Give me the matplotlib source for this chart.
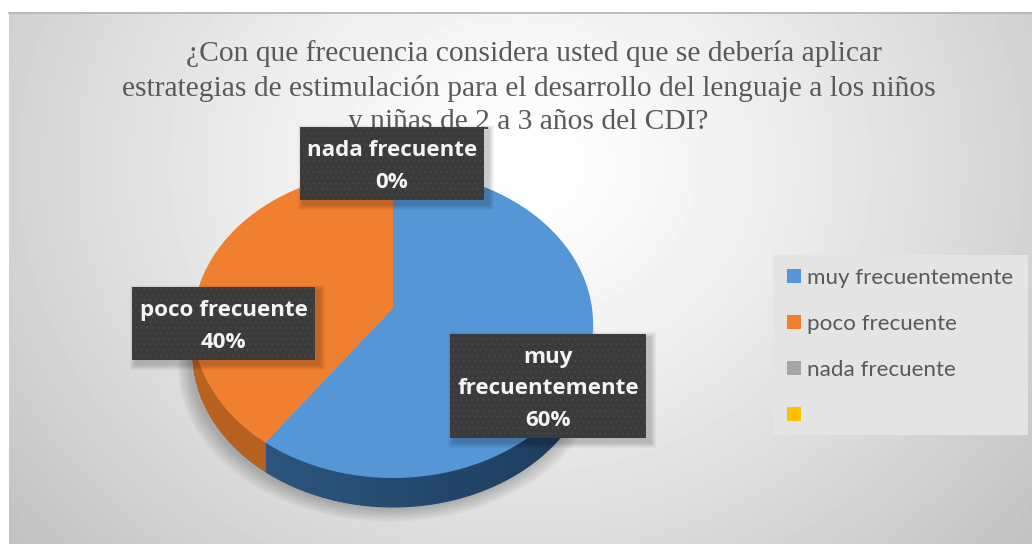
"""
Pie chart (Excel style 3D look) about how often language stimulation should be applied.
"""
import numpy as np
import matplotlib
matplotlib.use('Agg')
import matplotlib.pyplot as plt
from matplotlib.patches import Patch, Polygon, Rectangle

# data
categories = ['muy frecuentemente', 'poco frecuente', 'nada frecuente', '']
values = [60, 40, 0, 0]
label_texts = ['muy\nfrecuentemente\n60%', 'poco frecuente\n40%', 'nada frecuente\n0%']
title_lines = [
    '¿Con que frecuencia considera usted que se debería aplicar',
    'estrategias de estimulación para el desarrollo del lenguaje a los niños',
    'y niñas de 2 a 3 años del CDI?',
]

# styles
top_colors = ['#5596d6', '#f07f30', '#a5a5a5', '#ffc000']
wall_left = {0: '#305c88', 1: '#b8621f'}
wall_right = {0: '#1b3a5a', 1: '#a85a1e'}
box_pos = [(450, 334, 646, 438), (132, 287, 315, 360), (300, 127, 484, 200)]
title_pos = [(534, 54), (528.5, 88), (528, 122)]

# pie geometry in pixels
cx, cy = 393, 308
rx = 199
a_y = 152.3
k = 0.104
depth = 29

W, H = 1032, 544
fig = plt.figure(figsize=(W / 100, H / 100), dpi=100, facecolor='white')
ax = fig.add_axes([0, 0, 1, 1])
ax.set_xlim(0, W)
ax.set_ylim(H, 0)
ax.axis('off')

# chart area background, radial gray gradient
xx, yy = np.meshgrid(np.arange(9, W), np.arange(12, H))
dist = np.sqrt(((xx - 520) / 640) ** 2 + ((yy - 165) / 560) ** 2)
shade = np.clip(1.0 - 0.23 * dist ** 1.3, 0, 1)
ax.imshow(shade, extent=(9, W, H, 12), cmap='gray', vmin=0, vmax=1,
          aspect='auto', zorder=0)
ax.set_xlim(0, W)
ax.set_ylim(H, 0)
ax.plot([9, W], [12.5, 12.5], color='#b4b4b4', lw=1.2, zorder=1)


def rim(t, shift=0):
    # perspective projection of the pie's circle, t in radians from 12 o'clock clockwise
    u, v = np.sin(t), np.cos(t)
    return cx + rx * u / (1 + k * v), cy - a_y * v / (1 + k * v) + shift


def soft_rect(x0, y0, x1, y1, off=4):
    for i in range(6, 0, -1):
        ax.add_patch(Rectangle((x0 + off - i, y0 + off - i), x1 - x0 + 2 * i, y1 - y0 + 2 * i,
                               fc='black', ec='none', alpha=0.035, zorder=6))


# soft shadow under the pie
t_all = np.linspace(0, 2 * np.pi, 200)
px, py = rim(t_all, depth)
for i in range(10, 0, -1):
    ax.add_patch(Polygon(np.c_[cx + (px - cx) * (1 + i * 0.006) - 3, py + i * 1.4 + 1], closed=True,
                         fc='black', ec='none', alpha=0.022, zorder=2))

# slices
fractions = np.array(values) / sum(values)
ends = np.cumsum(fractions) * 2 * np.pi
starts = ends - fractions * 2 * np.pi
for i, val in enumerate(values):
    if val == 0:
        continue
    t = np.linspace(starts[i], ends[i], 150)
    x, y = rim(t)
    # side wall as short strips so it can darken from left to right
    c0 = np.array(matplotlib.colors.to_rgb(wall_left[i]))
    c1 = np.array(matplotlib.colors.to_rgb(wall_right[i]))
    for j in range(len(t) - 1):
        if np.cos(t[j]) > -k - 0.06:
            continue  # back of the rim is hidden by the top face
        f = np.clip((x[j] - (cx - rx)) / (2 * rx), 0, 1)
        col = c0 + (c1 - c0) * f
        ax.add_patch(Polygon([(x[j], y[j]), (x[j + 1], y[j + 1]),
                              (x[j + 1], y[j + 1] + depth), (x[j], y[j] + depth)],
                             closed=True, fc=col, ec=col, lw=0.8, zorder=3))
    ax.add_patch(Polygon(np.r_[[[cx, cy]], np.c_[x, y]], closed=True,
                         fc=top_colors[i], ec='none', zorder=4))

# data labels
plt.rcParams['hatch.linewidth'] = 0.5
for (x0, y0, x1, y1), txt in zip(box_pos, label_texts):
    soft_rect(x0, y0, x1, y1)
    ax.add_patch(Rectangle((x0, y0), x1 - x0, y1 - y0, fc='#3b3b3b', ec='#4a4a4a',
                           lw=0, hatch='...', zorder=7))
    ax.text((x0 + x1) / 2, (y0 + y1) / 2 + 3, txt, color='#f4f4f4', fontsize=16.1, family='Open Sans',
            weight='bold', ha='center', va='center', linespacing=1.68, zorder=8)

# title
for line, (tx, ty) in zip(title_lines, title_pos):
    ax.text(tx, ty, line, color='#595959', fontsize=21.25, family='Liberation Serif',
            ha='center', va='center', zorder=5)

# legend
ax.add_patch(Rectangle((773, 255), 255, 180, fc='#e4e4e4', ec='none', zorder=5))
handles = [Patch(fc=c, ec='none') for c in top_colors]
fs_px = 22.4
leg = ax.legend(handles, categories, loc='upper left', bbox_to_anchor=(787, 268),
                bbox_transform=ax.transData, frameon=False, borderpad=0, borderaxespad=0,
                prop={'family': 'Lato', 'size': fs_px * 0.72},
                handlelength=14 / fs_px, handleheight=14 / fs_px, handletextpad=6 / fs_px,
                labelspacing=26 / fs_px, labelcolor='#595959')
leg.set_zorder(6)

fig.savefig('out.png', dpi=100)
plt.close(fig)
